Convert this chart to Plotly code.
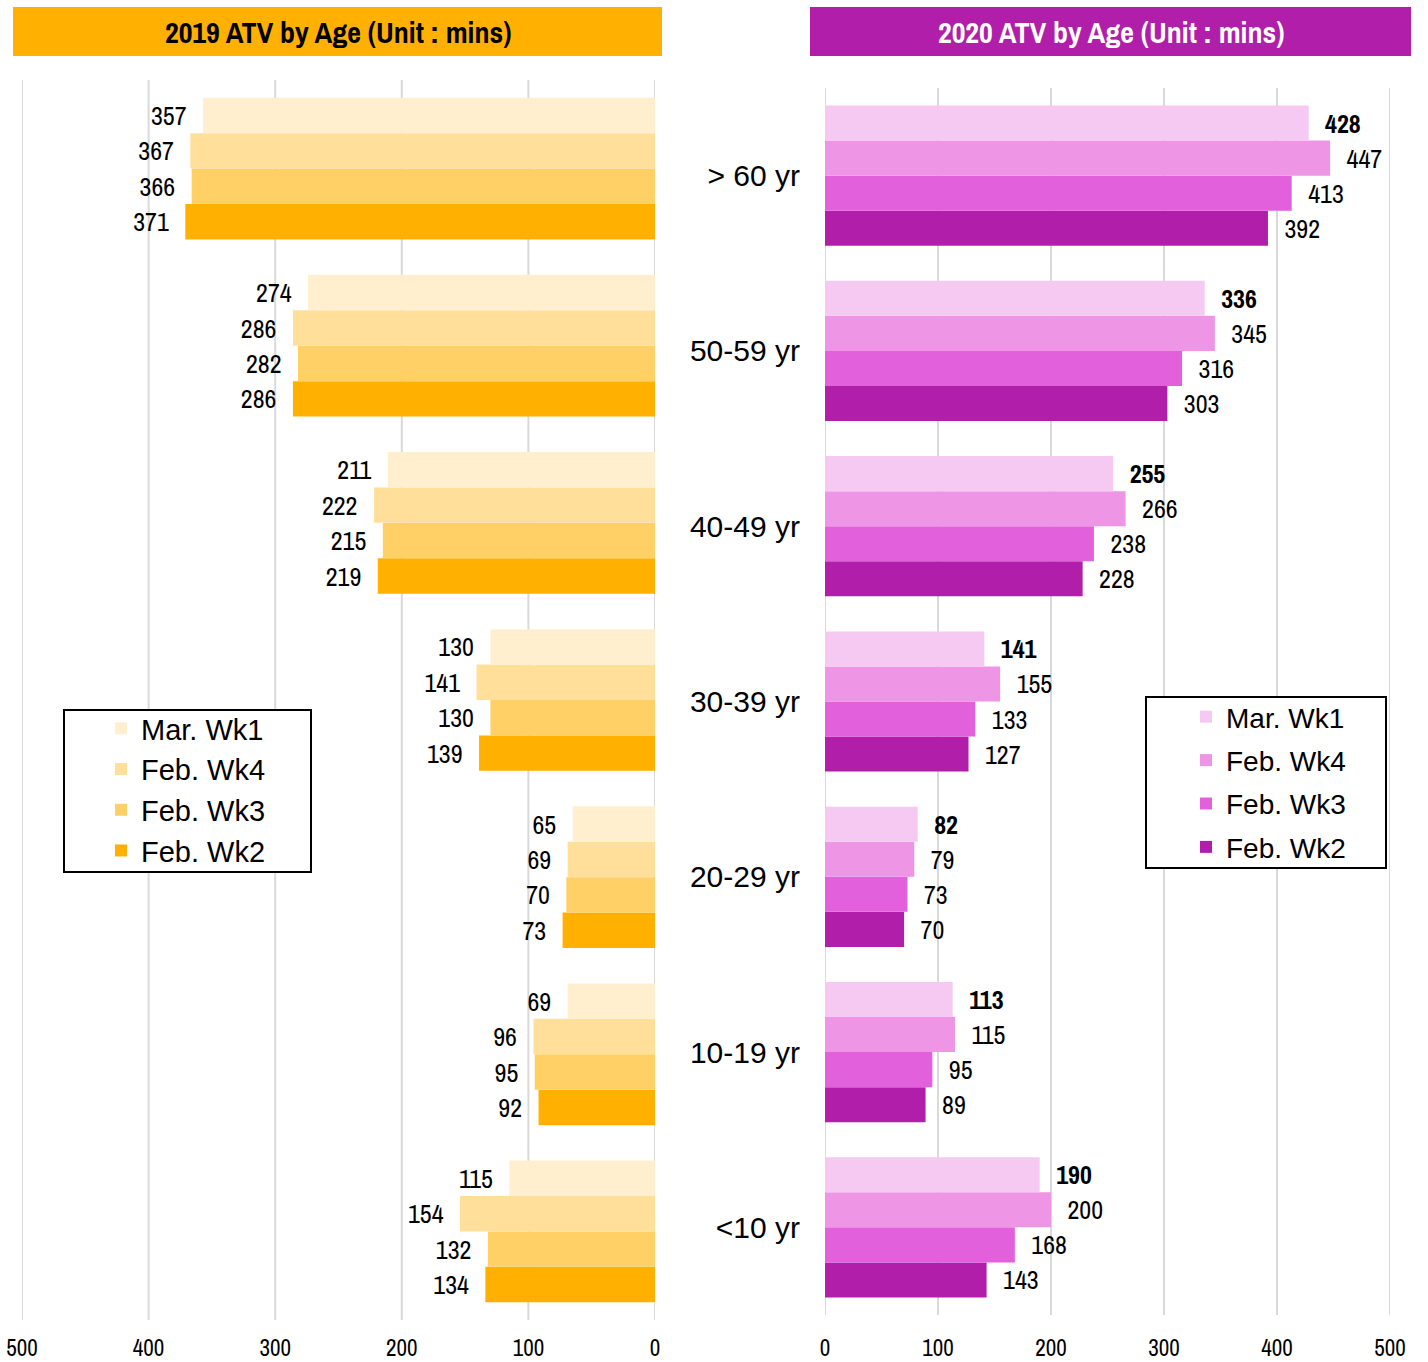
import plotly.graph_objects as go

# ---- data ----
age_groups = ["> 60 yr", "50-59 yr", "40-49 yr", "30-39 yr", "20-29 yr", "10-19 yr", "<10 yr"]  # top to bottom
series_names = ["Mar. Wk1", "Feb. Wk4", "Feb. Wk3", "Feb. Wk2"]

atv_2019 = {
    "Mar. Wk1": [357, 274, 211, 130, 65, 69, 115],
    "Feb. Wk4": [367, 286, 222, 141, 69, 96, 154],
    "Feb. Wk3": [366, 282, 215, 130, 70, 95, 132],
    "Feb. Wk2": [371, 286, 219, 139, 73, 92, 134],
}
atv_2020 = {
    "Mar. Wk1": [428, 336, 255, 141, 82, 113, 190],
    "Feb. Wk4": [447, 345, 266, 155, 79, 115, 200],
    "Feb. Wk3": [413, 316, 238, 133, 73, 95, 168],
    "Feb. Wk2": [392, 303, 228, 127, 70, 89, 143],
}
x_ticks = [0, 100, 200, 300, 400, 500]

colors_2019 = {"Mar. Wk1": "#FFEFCF", "Feb. Wk4": "#FFDF9A", "Feb. Wk3": "#FFD066", "Feb. Wk2": "#FFB000"}
colors_2020 = {"Mar. Wk1": "#F6C9F3", "Feb. Wk4": "#EE95E6", "Feb. Wk3": "#E360DC", "Feb. Wk2": "#B01EAA"}

NARROW = "Liberation Sans Narrow, Archivo Narrow, DejaVu Sans Condensed, Arial Narrow, sans-serif"
ARIAL = "Liberation Sans, Arial, sans-serif"
NB = "\u00a0"
PAD = NB * 2 + "\u200a"
GRID = "#D9D9D9"

fig = go.Figure()

# plotly places the first trace lowest within a horizontal group -> add bottom series first
for name in reversed(series_names):
    bold = name == "Mar. Wk1"
    rank = series_names.index(name) + 1
    fig.add_trace(go.Bar(
        y=age_groups, x=atv_2019[name], orientation="h", name=name,
        marker=dict(color=colors_2019[name], line=dict(width=0)),
        text=[f"{v}{PAD}" for v in atv_2019[name]],
        textposition="outside", cliponaxis=False, constraintext="none",
        textfont=dict(family=NARROW, size=26, color="#000000"),
        xaxis="x", yaxis="y", legend="legend", legendrank=rank,
    ))
    fig.add_trace(go.Bar(
        y=age_groups, x=atv_2020[name], orientation="h", name=name,
        marker=dict(color=colors_2020[name], line=dict(width=0)),
        text=[(f"{PAD}<b>{v}</b>" if bold else f"{PAD}{v}") for v in atv_2020[name]],
        textposition="outside", cliponaxis=False, constraintext="none",
        textfont=dict(family=NARROW, size=26, color="#000000"),
        xaxis="x2", yaxis="y2", legend="legend2", legendrank=rank,
        legendgroup="R" + name,
    ))

H, W = 1362, 1428
cat_order = list(reversed(age_groups))  # bottom to top

def x_axis(**kw):
    d = dict(
        showgrid=False, zeroline=False,
        tickvals=x_ticks, ticktext=[str(t) for t in x_ticks],
        tickfont=dict(family=NARROW, size=23, color="#000000"),
        showline=False, ticks="",
    )
    d.update(kw)
    return d

fig.update_layout(
    width=W, height=H,
    margin=dict(l=0, r=0, t=0, b=0, autoexpand=False),
    paper_bgcolor="white", plot_bgcolor="white",
    barmode="group", bargap=0.2, bargroupgap=0,
    xaxis=x_axis(domain=[22 / W, 655 / W], range=[500, 0], anchor="y", ticklabelstandoff=12),
    yaxis=dict(domain=[1 - 1320 / H, 1 - 80 / H], anchor="x", type="category",
               categoryorder="array", categoryarray=cat_order,
               showticklabels=False, showgrid=False, zeroline=False),
    xaxis2=x_axis(domain=[825 / W, 1390 / W], range=[0, 500], anchor="y2", ticklabelstandoff=17),
    yaxis2=dict(domain=[1 - 1315 / H, 1 - 88 / H], anchor="x2", type="category",
                categoryorder="array", categoryarray=cat_order,
                showgrid=False, zeroline=False, ticks="", ticklabelstandoff=24,
                tickfont=dict(family=ARIAL, size=30, color="#000000")),
    legend=dict(x=101 / W, y=1 - 703 / H, xanchor="left", yanchor="top",
                traceorder="normal", borderwidth=0, bgcolor="rgba(0,0,0,0)",
                font=dict(family=ARIAL, size=29, color="#000000"),
                itemwidth=30, tracegroupgap=0),
    legend2=dict(x=1186 / W, y=1 - 692 / H, xanchor="left", yanchor="top",
                 traceorder="grouped", borderwidth=0, bgcolor="rgba(0,0,0,0)",
                 font=dict(family=ARIAL, size=28, color="#000000"),
                 itemwidth=30, tracegroupgap=4),
    showlegend=True,
)

# vertical gridlines at the tick values (drawn as shapes so legend frames can cover them)
for t in x_ticks:
    fig.add_shape(type="line", xref="x", yref="y domain", layer="below",
                  x0=t, x1=t, y0=0, y1=1, line=dict(color=GRID, width=2))
    fig.add_shape(type="line", xref="x2", yref="y2 domain", layer="below",
                  x0=t, x1=t, y0=0, y1=1, line=dict(color=GRID, width=2))

# legend frames
fig.add_shape(type="rect", xref="x domain", yref="y domain", layer="below",
              x0=(64 - 22) / 633, x1=(311 - 22) / 633,
              y0=(1320 - 872) / 1240, y1=(1320 - 710) / 1240,
              fillcolor="white", line=dict(color="#000000", width=2))
fig.add_shape(type="rect", xref="x2 domain", yref="y2 domain", layer="below",
              x0=(1146 - 825) / 565, x1=(1386 - 825) / 565,
              y0=(1315 - 868) / 1227, y1=(1315 - 697) / 1227,
              fillcolor="white", line=dict(color="#000000", width=2))

# title banners
fig.add_shape(type="rect", xref="paper", yref="paper", layer="below",
              x0=13 / W, x1=662 / W, y0=1 - 56 / H, y1=1 - 7 / H,
              fillcolor="#FFB000", line=dict(width=0))
fig.add_shape(type="rect", xref="paper", yref="paper", layer="below",
              x0=810 / W, x1=1411 / W, y0=1 - 56 / H, y1=1 - 7 / H,
              fillcolor="#B01EAA", line=dict(width=0))
fig.add_annotation(xref="paper", yref="paper", x=337.5 / W, y=1 - 31.5 / H,
                   xanchor="center", yanchor="middle",
                   text="<b>2019 ATV by Age (Unit : mins)</b>", showarrow=False,
                   font=dict(family=NARROW, size=30, color="#000000"))
fig.add_annotation(xref="paper", yref="paper", x=1110.5 / W, y=1 - 31.5 / H,
                   xanchor="center", yanchor="middle",
                   text="<b>2020 ATV by Age (Unit : mins)</b>", showarrow=False,
                   font=dict(family=NARROW, size=30, color="#FFFFFF"))

fig.write_html("out.html")
